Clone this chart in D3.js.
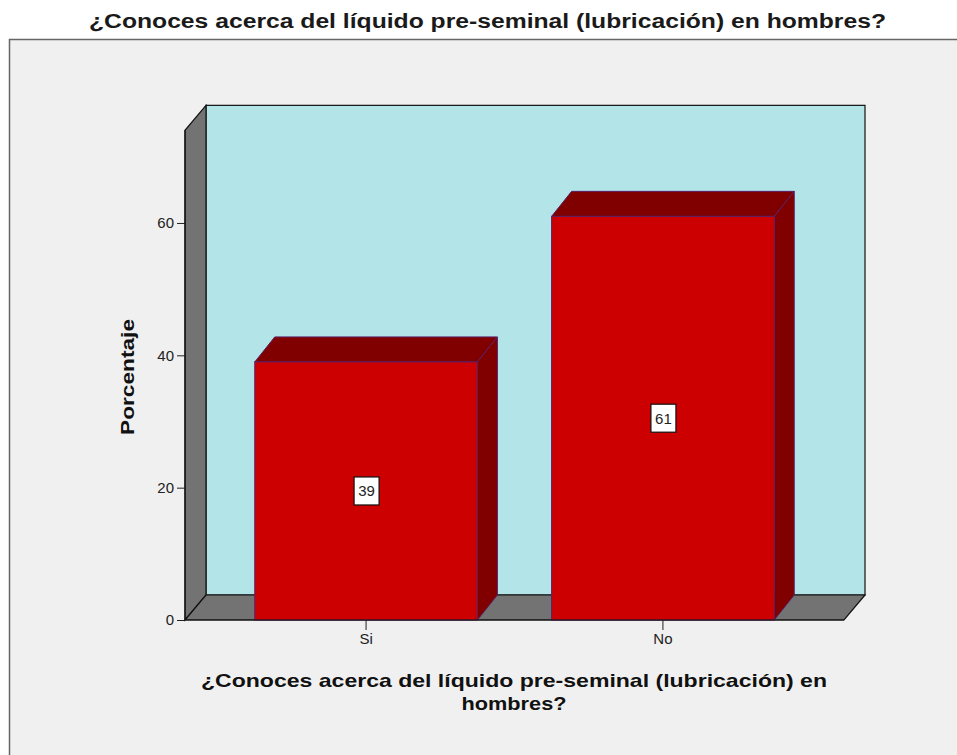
<!DOCTYPE html>
<html>
<head>
<meta charset="utf-8">
<script src="https://cdn.jsdelivr.net/npm/d3@7"></script>
<style>
  body { margin: 0; background: #fff; }
  text { font-family: "Liberation Sans", Arial, sans-serif; }
</style>
</head>
<body>
<svg id="chart"></svg>
<script>
const categories = ["Si", "No"];
const values = [39, 61];
const yTicks = [0, 20, 40, 60];
const title = "¿Conoces acerca del líquido pre-seminal (lubricación) en hombres?";
const xTitle = ["¿Conoces acerca del líquido pre-seminal (lubricación) en", "hombres?"];
const yTitle = "Porcentaje";

const width = 957, height = 755;
const depthX = 21, depthY = -25; // 3D offset of the back wall
const plotLeft = 185, plotRight = 844, plotBottom = 620;

const svg = d3.select("#chart")
    .attr("width", width)
    .attr("height", height);

// outer frame
svg.append("rect")
    .attr("x", 9.5).attr("y", 39.5)
    .attr("width", width + 10).attr("height", height)
    .attr("fill", "#f0f0f0")
    .attr("stroke", "#666").attr("stroke-width", 1.5);

svg.append("text")
    .attr("x", 89).attr("y", 28)
    .attr("font-size", 20).attr("font-weight", "bold")
    .attr("fill", "#1a1a1a")
    .attr("textLength", 797).attr("lengthAdjust", "spacingAndGlyphs")
    .text(title);

const y = d3.scaleLinear().domain([0, 74]).range([plotBottom, plotBottom - 74 * 6.617]);
const x = d3.scaleBand().domain(categories).range([plotLeft, plotRight])
    .paddingInner(0.25).paddingOuter(0.235);

const yTop = y.range()[1];
const wall = "#737373", line = "#111";

// back wall
svg.append("rect")
    .attr("x", plotLeft + depthX).attr("y", yTop + depthY)
    .attr("width", plotRight - plotLeft).attr("height", plotBottom - yTop)
    .attr("fill", "#b3e5e8").attr("stroke", line).attr("stroke-width", 1.2);

// left wall
svg.append("path")
    .attr("d", d3.line()([
      [plotLeft, plotBottom], [plotLeft, yTop],
      [plotLeft + depthX, yTop + depthY], [plotLeft + depthX, plotBottom + depthY]
    ]) + "Z")
    .attr("fill", wall).attr("stroke", line).attr("stroke-width", 1.2);

// floor
svg.append("path")
    .attr("d", d3.line()([
      [plotLeft, plotBottom], [plotLeft + depthX, plotBottom + depthY],
      [plotRight + depthX, plotBottom + depthY], [plotRight, plotBottom]
    ]) + "Z")
    .attr("fill", wall).attr("stroke", line).attr("stroke-width", 1.2);

// bars
const bars = svg.append("g").selectAll("g")
  .data(categories.map((c, i) => ({ c, v: values[i] })))
  .join("g");

const barStroke = "#5a1f66";
bars.append("path")
    .attr("d", d => {
      const x0 = x(d.c), x1 = x0 + x.bandwidth(), yv = y(d.v);
      return d3.line()([[x0, yv], [x0 + depthX - 1, yv + depthY], [x1 + depthX - 1, yv + depthY], [x1, yv]]) + "Z";
    })
    .attr("fill", "#800000").attr("stroke", barStroke).attr("stroke-width", 1);

bars.append("path")
    .attr("d", d => {
      const x1 = x(d.c) + x.bandwidth(), yv = y(d.v);
      return d3.line()([[x1, yv], [x1 + depthX - 1, yv + depthY], [x1 + depthX - 1, plotBottom + depthY], [x1, plotBottom]]) + "Z";
    })
    .attr("fill", "#800000").attr("stroke", barStroke).attr("stroke-width", 1);

bars.append("rect")
    .attr("x", d => x(d.c)).attr("y", d => y(d.v))
    .attr("width", x.bandwidth()).attr("height", d => plotBottom - y(d.v))
    .attr("fill", "#cc0000").attr("stroke", barStroke).attr("stroke-width", 1);

// value labels
const lab = bars.append("g")
    .attr("transform", d => `translate(${x(d.c) + x.bandwidth() / 2},${(y(d.v) + plotBottom) / 2})`);
lab.append("rect")
    .attr("x", -12).attr("y", -14).attr("width", 25).attr("height", 28)
    .attr("fill", "#fff").attr("stroke", "#111").attr("stroke-width", 1.2);
lab.append("text")
    .attr("text-anchor", "middle").attr("dy", "0.36em").attr("x", 0.5)
    .attr("font-size", 15).attr("fill", "#222")
    .text(d => d.v);

// axes
const yAxis = svg.append("g")
    .attr("transform", `translate(${plotLeft},0)`)
    .call(d3.axisLeft(y).tickValues(yTicks).tickSize(8).tickPadding(3).tickSizeOuter(0));
yAxis.select(".domain").remove();
yAxis.selectAll("text").attr("font-size", 15).attr("fill", "#222")
    .attr("font-family", "Liberation Sans, Arial, sans-serif");
yAxis.selectAll("line").attr("stroke", "#222");

svg.append("line")
    .attr("x1", plotLeft).attr("x2", plotLeft)
    .attr("y1", yTop).attr("y2", plotBottom)
    .attr("stroke", line).attr("stroke-width", 1.2);
svg.append("line")
    .attr("x1", plotLeft).attr("x2", plotRight)
    .attr("y1", plotBottom).attr("y2", plotBottom)
    .attr("stroke", line).attr("stroke-width", 1.2);

const xAxis = svg.append("g")
    .attr("transform", `translate(0,${plotBottom})`)
    .call(d3.axisBottom(x).tickSize(10).tickPadding(3).tickSizeOuter(0));
xAxis.select(".domain").remove();
xAxis.selectAll("text").attr("font-size", 15).attr("fill", "#222")
    .attr("font-family", "Liberation Sans, Arial, sans-serif");
xAxis.selectAll("line").attr("stroke", "#222");

// axis titles
svg.append("text")
    .attr("transform", `translate(134,435) rotate(-90)`)
    .attr("font-size", 19).attr("font-weight", "bold").attr("fill", "#111")
    .attr("textLength", 116).attr("lengthAdjust", "spacingAndGlyphs")
    .text(yTitle);

const xTitleLengths = [626, 105];
svg.append("g").selectAll("text")
  .data(xTitle)
  .join("text")
    .attr("x", (d, i) => 514 - xTitleLengths[i] / 2).attr("y", (d, i) => 687 + i * 23)
    .attr("font-size", 19).attr("font-weight", "bold").attr("fill", "#111")
    .attr("textLength", (d, i) => xTitleLengths[i]).attr("lengthAdjust", "spacingAndGlyphs")
    .text(d => d);
</script>
</body>
</html>
